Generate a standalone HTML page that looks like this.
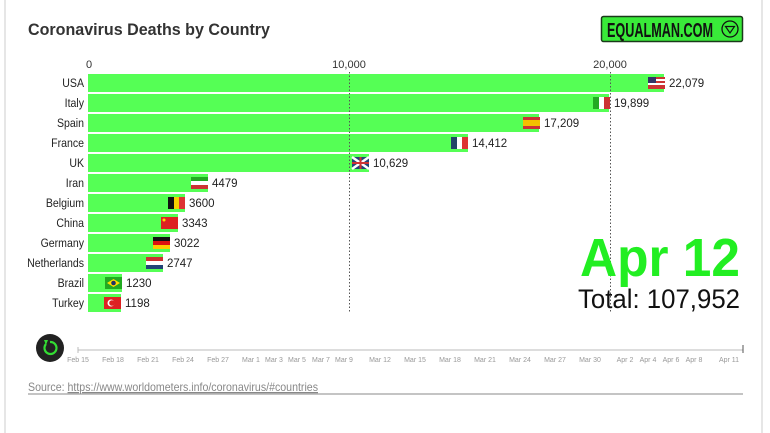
<!DOCTYPE html>
<html><head><meta charset="utf-8"><style>
html,body{margin:0;padding:0;background:#fff;}
svg{display:block;font-family:"Liberation Sans",sans-serif;}
</style></head><body>
<svg width="770" height="433" viewBox="0 0 770 433" xmlns="http://www.w3.org/2000/svg">
<rect x="0" y="0" width="770" height="433" fill="#fff"/>
<line x1="5" y1="0" x2="5" y2="433" stroke="#ddd" stroke-width="1.5"/>
<line x1="762" y1="0" x2="762" y2="433" stroke="#ddd" stroke-width="1.5"/>
<text x="28" y="35" font-size="17" font-weight="bold" fill="#333" textLength="242" lengthAdjust="spacingAndGlyphs">Coronavirus Deaths by Country</text>
<rect x="601.5" y="16.5" width="141" height="25" rx="2" fill="#39ea39" stroke="#1a3a1a" stroke-width="1.5"/>
<text x="607" y="37" font-size="20" font-weight="bold" fill="#111" textLength="106" lengthAdjust="spacingAndGlyphs">EQUALMAN.COM</text>
<circle cx="730" cy="29" r="8" fill="none" stroke="#111" stroke-width="1.3"/>
<path d="M725.5 26.5 L734.5 26.5 L730 33 Z" fill="none" stroke="#111" stroke-width="1.2"/>
<g font-size="11" fill="#333" text-anchor="middle">
<text x="89" y="68">0</text><text x="349" y="68">10,000</text><text x="610" y="68">20,000</text>
</g>
<g fill="#55ff55">
<rect x="88" y="74" width="576" height="18"/>
<rect x="88" y="94" width="521" height="18"/>
<rect x="88" y="114" width="451" height="18"/>
<rect x="88" y="134" width="380" height="18"/>
<rect x="88" y="154" width="281" height="18"/>
<rect x="88" y="174" width="120" height="18"/>
<rect x="88" y="194" width="97" height="18"/>
<rect x="88" y="214" width="90" height="18"/>
<rect x="88" y="234" width="82" height="18"/>
<rect x="88" y="254" width="75" height="18"/>
<rect x="88" y="274" width="34" height="18"/>
<rect x="88" y="294" width="33" height="18"/>
</g>
<g stroke="#555" stroke-dasharray="1.5,2" stroke-width="1">
<line x1="349.5" y1="72" x2="349.5" y2="313"/><line x1="610.5" y1="72" x2="610.5" y2="313"/>
</g>
<g font-size="12" fill="#222" text-anchor="end" transform="translate(84,0) scale(0.88,1)">
<text x="0" y="87">USA</text><text x="0" y="107">Italy</text><text x="0" y="127">Spain</text>
<text x="0" y="147">France</text><text x="0" y="167">UK</text><text x="0" y="187">Iran</text>
<text x="0" y="207">Belgium</text><text x="0" y="227">China</text><text x="0" y="247">Germany</text>
<text x="0" y="267">Netherlands</text><text x="0" y="287">Brazil</text><text x="0" y="307">Turkey</text>
</g>
<g>
<rect x="648" y="77" width="17" height="12" fill="#c33"/><rect x="648" y="79" width="17" height="2" fill="#fff"/><rect x="648" y="83" width="17" height="2" fill="#fff"/><rect x="648" y="77" width="8" height="6" fill="#336"/>
<rect x="593" y="97" width="6" height="12" fill="#2a2"/><rect x="599" y="97" width="5" height="12" fill="#fff"/><rect x="604" y="97" width="6" height="12" fill="#c33"/>
<rect x="523" y="117" width="17" height="12" fill="#c33"/><rect x="523" y="120" width="17" height="6" fill="#f4c000"/>
<rect x="451" y="137" width="6" height="12" fill="#246"/><rect x="457" y="137" width="5" height="12" fill="#fff"/><rect x="462" y="137" width="6" height="12" fill="#d33"/>
<rect x="352" y="157" width="17" height="12" fill="#247"/><path d="M352 157L369 169M369 157L352 169" stroke="#fff" stroke-width="2.5"/><rect x="352" y="162" width="17" height="2" fill="#c33"/><rect x="359.5" y="157" width="2" height="12" fill="#c33"/>
<rect x="191" y="177" width="17" height="4" fill="#2a2"/><rect x="191" y="181" width="17" height="4" fill="#fff"/><rect x="191" y="185" width="17" height="4" fill="#c33"/>
<rect x="168" y="197" width="6" height="12" fill="#111"/><rect x="174" y="197" width="5" height="12" fill="#f5d000"/><rect x="179" y="197" width="6" height="12" fill="#d33"/>
<rect x="161" y="217" width="17" height="12" fill="#d22"/><circle cx="164" cy="220" r="1.5" fill="#fd0"/>
<rect x="153" y="237" width="17" height="4" fill="#111"/><rect x="153" y="241" width="17" height="4" fill="#d11"/><rect x="153" y="245" width="17" height="4" fill="#fc0"/>
<rect x="146" y="257" width="17" height="4" fill="#c33"/><rect x="146" y="261" width="17" height="4" fill="#fff"/><rect x="146" y="265" width="17" height="4" fill="#247"/>
<rect x="105" y="277" width="17" height="12" fill="#2a2"/><path d="M107 283L113.5 279L120 283L113.5 287Z" fill="#fd0"/><circle cx="113.5" cy="283" r="2.3" fill="#236"/>
<rect x="104" y="297" width="17" height="12" fill="#d22"/><circle cx="111" cy="303" r="3.5" fill="#fff"/><circle cx="112" cy="303" r="2.8" fill="#d22"/>
</g>
<g font-size="11.5" fill="#222">
<text x="669" y="87">22,079</text><text x="614" y="107">19,899</text><text x="544" y="127">17,209</text>
<text x="472" y="147">14,412</text><text x="373" y="167">10,629</text><text x="212" y="187">4479</text>
<text x="189" y="207">3600</text><text x="182" y="227">3343</text><text x="174" y="247">3022</text>
<text x="167" y="267">2747</text><text x="126" y="287">1230</text><text x="125" y="307">1198</text>
</g>
<text x="580" y="276" font-size="54" font-weight="bold" fill="#22ee22" textLength="160" lengthAdjust="spacingAndGlyphs">Apr 12</text>
<text x="578" y="308" font-size="27" fill="#111" textLength="162" lengthAdjust="spacingAndGlyphs">Total: 107,952</text>
<circle cx="50" cy="348" r="14" fill="#222"/>
<path d="M46 344 A6 6 0 1 0 50 342" fill="none" stroke="#3d3" stroke-width="2.2"/>
<path d="M44 340 L48 340 L46 345 Z" fill="#3d3"/>
<line x1="78" y1="350" x2="743" y2="350" stroke="#bbb" stroke-width="1"/>
<g stroke="#bbb">
<line x1="78" y1="347" x2="78" y2="353"/><line x1="743" y1="345" x2="743" y2="353" stroke="#555"/>
</g>
<g font-size="7" fill="#999" text-anchor="middle">
<text x="78" y="362">Feb 15</text><text x="113" y="362">Feb 18</text><text x="148" y="362">Feb 21</text>
<text x="183" y="362">Feb 24</text><text x="218" y="362">Feb 27</text><text x="251" y="362">Mar 1</text>
<text x="274" y="362">Mar 3</text><text x="297" y="362">Mar 5</text><text x="321" y="362">Mar 7</text>
<text x="344" y="362">Mar 9</text><text x="380" y="362">Mar 12</text><text x="415" y="362">Mar 15</text>
<text x="450" y="362">Mar 18</text><text x="485" y="362">Mar 21</text><text x="520" y="362">Mar 24</text>
<text x="555" y="362">Mar 27</text><text x="590" y="362">Mar 30</text><text x="625" y="362">Apr 2</text>
<text x="648" y="362">Apr 4</text><text x="671" y="362">Apr 6</text><text x="694" y="362">Apr 8</text>
<text x="729" y="362">Apr 11</text>
</g>
<text x="28" y="391" font-size="12" fill="#888" textLength="290" lengthAdjust="spacingAndGlyphs">Source: <tspan text-decoration="underline">https://www.worldometers.info/coronavirus/#countries</tspan></text>
<line x1="28" y1="394" x2="743" y2="394" stroke="#888" stroke-width="1"/>
</svg>
</body></html>
